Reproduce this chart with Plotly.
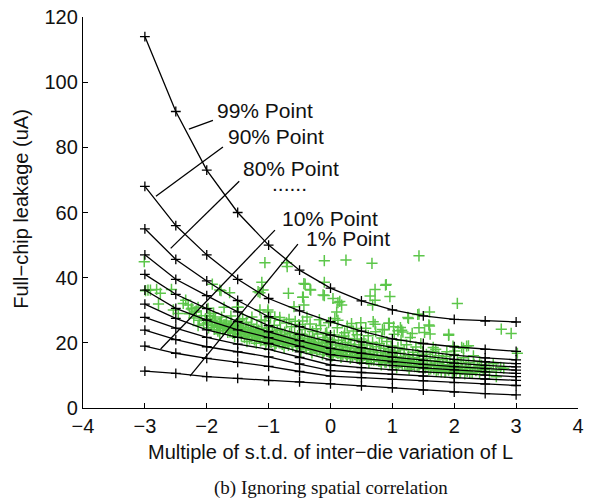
import plotly.graph_objects as go

# inter-die variation multiples where the percentile curves are evaluated
sigma_x = [-3, -2.5, -2, -1.5, -1, -0.5, 0, 0.5, 1, 1.5, 2, 2.5, 3]

# full-chip leakage (uA) percentile curves, top (99%) to bottom (1%)
p99 = [114, 91, 73, 60, 50, 42.3, 36.8, 32.9, 30.1, 28.3, 27.2, 26.7, 26.4]
p90 = [68, 56, 47, 39.5, 33.6, 29.8, 26.5, 23.6, 21.2, 19.8, 18.8, 18.0, 17.4]
p80 = [55, 45.6, 39, 33, 28, 25, 22.4, 20.3, 18.6, 17.3, 16.2, 15.4, 14.8]
p70 = [47, 39.5, 34.5, 29.5, 25.3, 22.6, 20.3, 18.5, 17.0, 15.9, 14.9, 14.2, 13.6]
p60 = [41, 34.9, 30.5, 26.5, 23.4, 20.7, 18.3, 16.8, 15.6, 14.6, 13.8, 13.1, 12.6]
p50 = [36.2, 30.6, 27, 24, 21.6, 18.9, 16.4, 15.2, 14.2, 13.4, 12.7, 12.1, 11.6]
p40 = [31.9, 27.5, 24, 21.7, 19.8, 17.2, 14.8, 13.8, 13.0, 12.3, 11.7, 11.1, 10.6]
p30 = [27.8, 24.5, 21.7, 19.6, 18, 15.5, 13.2, 12.4, 11.7, 11.1, 10.6, 10.1, 9.6]
p20 = [23.9, 21, 18.8, 17.2, 15.7, 13.5, 11.5, 10.9, 10.3, 9.8, 9.3, 8.9, 8.5]
p10 = [19, 16.8, 15.2, 14, 12.8, 11.2, 9.8, 9.3, 8.8, 8.3, 7.8, 7.3, 6.9]
p01 = [11.3, 10.6, 9.6, 9.1, 8.4, 8.0, 7.4, 6.8, 6.2, 5.5, 4.9, 4.4, 4.0]
curves = [p99, p90, p80, p70, p60, p50, p40, p30, p20, p10, p01]

# Monte Carlo samples: sparse points away from the main band
mc_sparse = [
    (-3.01, 44.9), (-2.95, 36.2), (-2.91, 36.2), (-2.99, 36.0), (-2.75, 35.2), (-2.57, 36.4),
    (-2.78, 31.9), (-2.81, 36.4), (-2.34, 33.1), (-2.30, 31.6), (-2.54, 30.1), (-2.46, 29.0),
    (-2.38, 32.1), (-2.24, 30.6), (-2.19, 29.5), (-1.91, 38.0), (-1.79, 36.2), (-1.63, 35.4),
    (-1.49, 30.9), (-1.95, 28.5), (-1.06, 44.6), (-1.11, 38.6), (-1.14, 35.4), (-1.01, 29.5),
    (-0.71, 44.6), (-0.68, 35.2), (-0.70, 43.4), (-0.10, 45.2), (-1.17, 35.7), (-0.41, 38.0),
    (-0.33, 36.4), (-0.45, 34.0), (-0.10, 34.5), (-0.10, 38.6), (-0.43, 31.6), (-0.59, 31.1),
    (0.04, 33.6), (0.10, 29.5), (-1.51, 30.9), (-1.14, 30.1), (-1.01, 30.1), (-0.82, 27.8),
    (0.25, 45.4), (0.67, 44.4), (1.43, 46.7), (0.90, 37.9), (0.72, 36.4), (0.96, 34.2),
    (0.64, 34.4), (0.72, 33.1), (0.68, 31.6), (0.12, 32.3), (0.18, 31.6), (1.26, 27.5),
    (1.43, 28.8), (1.60, 29.5), (1.43, 24.6), (1.60, 25.2), (1.61, 22.7), (0.49, 26.2),
    (0.69, 26.5), (0.95, 26.0), (0.84, 24.1), (1.09, 23.7), (1.15, 23.9), (1.66, 18.6),
    (2.05, 32.1), (2.76, 24.2), (2.92, 22.9), (1.91, 22.3), (1.98, 19.0), (2.01, 17.5),
    (2.15, 18.3), (2.23, 19.1), (1.70, 18.0), (1.88, 17.3), (2.31, 16.0), (2.41, 14.2),
    (3.02, 16.8), (2.80, 12.2), (2.68, 9.6), (1.41, 28.7), (1.25, 27.8), (0.89, 37.7),
    (1.59, 25.5), (1.52, 23.2), (1.91, 22.6), (0.94, 26.0), (1.13, 24.7), (2.12, 18.6),
    (2.20, 19.0), (-0.43, 38.2), (-0.32, 36.2), (-0.44, 34.0), (-0.12, 34.7), (0.15, 32.7),
    (-1.09, 36.2), (-1.77, 36.0), (-1.72, 30.9), (-1.98, 30.6), (-2.14, 30.9), (-0.90, 28.0),
]

# Monte Carlo samples: dense band
mc_band_left = [
    (-2.28, 28.9), (-2.21, 27.6), (-2.17, 29.8), (-2.12, 26.9), (-2.09, 28.3), (-2.05, 25.8),
    (-2.02, 27.4), (-1.99, 26.2), (-1.97, 24.6), (-1.95, 28.1), (-1.93, 25.4), (-1.91, 26.8),
    (-1.88, 24.1), (-1.86, 27.3), (-1.84, 25.1), (-1.82, 23.6), (-1.80, 26.0), (-1.78, 24.8),
    (-1.76, 27.9), (-1.74, 23.9), (-1.72, 25.6), (-1.70, 24.4), (-1.68, 26.7), (-1.66, 23.2),
    (-1.64, 25.0), (-1.62, 24.0), (-1.60, 26.1), (-1.58, 22.9), (-1.56, 24.7), (-1.54, 23.5),
    (-1.52, 25.8), (-1.50, 22.6), (-1.49, 24.2), (-1.47, 27.0), (-2.25, 30.4), (-2.14, 25.3),
    (-1.89, 29.1), (-1.79, 22.8), (-1.61, 28.2), (-1.55, 21.9),
    (-1.46, 23.8), (-1.44, 22.1), (-1.43, 25.2), (-1.41, 24.0), (-1.39, 21.6), (-1.38, 23.1),
    (-1.36, 26.3), (-1.34, 22.7), (-1.33, 24.6), (-1.31, 21.2), (-1.29, 23.5), (-1.28, 25.7),
    (-1.26, 22.3), (-1.24, 24.1), (-1.23, 20.9), (-1.21, 23.0), (-1.19, 25.0), (-1.18, 21.8),
    (-1.16, 23.9), (-1.14, 22.5), (-1.13, 20.6), (-1.11, 24.4), (-1.09, 21.4), (-1.08, 22.9),
    (-1.06, 26.8), (-1.04, 20.3), (-1.03, 23.6), (-1.01, 21.9), (-0.99, 24.7), (-0.98, 22.4),
    (-0.96, 20.1), (-0.94, 23.2), (-0.93, 21.1), (-0.91, 25.4), (-0.89, 22.0), (-0.88, 19.8),
    (-0.86, 23.7), (-0.84, 21.5), (-0.83, 20.4), (-0.81, 24.2), (-0.79, 22.6), (-0.78, 19.5),
    (-0.76, 21.0), (-0.74, 23.3), (-0.73, 20.0), (-0.71, 26.1), (-0.69, 21.7), (-0.68, 19.2),
    (-0.66, 22.8), (-0.64, 20.7), (-0.63, 24.9), (-0.61, 19.0), (-0.59, 21.3), (-0.58, 23.0),
    (-0.56, 20.2), (-0.54, 18.8), (-0.53, 22.2), (-0.51, 25.6), (-1.42, 27.4), (-1.27, 27.9),
    (-1.12, 27.0), (-0.97, 27.6), (-0.82, 26.9), (-0.67, 27.2), (-0.57, 26.6), (-1.35, 20.4),
    (-1.20, 19.9), (-1.05, 19.4), (-0.90, 18.9), (-0.75, 18.5),
]
mc_band_mid = [
    (-0.49, 20.5), (-0.47, 18.4), (-0.46, 22.6), (-0.44, 19.7), (-0.42, 21.4), (-0.41, 24.1),
    (-0.39, 18.1), (-0.37, 20.9), (-0.36, 19.2), (-0.34, 22.0), (-0.32, 17.9), (-0.31, 20.3),
    (-0.29, 23.5), (-0.27, 18.8), (-0.26, 21.1), (-0.24, 19.5), (-0.22, 17.6), (-0.21, 22.7),
    (-0.19, 20.0), (-0.17, 18.3), (-0.16, 25.3), (-0.14, 19.1), (-0.12, 21.6), (-0.11, 17.3),
    (-0.09, 20.6), (-0.07, 18.7), (-0.06, 23.2), (-0.04, 19.8), (-0.02, 17.0), (-0.01, 21.0),
    (0.01, 18.5), (0.03, 20.2), (0.04, 16.8), (0.06, 22.4), (0.08, 19.3), (0.09, 17.7),
    (0.11, 24.6), (0.13, 20.8), (0.14, 18.0), (0.16, 16.5), (0.18, 21.9), (0.19, 19.0),
    (0.21, 17.4), (0.23, 23.1), (0.24, 20.1), (0.26, 16.2), (0.28, 18.6), (0.29, 21.3),
    (0.31, 17.1), (0.33, 19.6), (0.34, 25.9), (0.36, 16.0), (0.38, 18.2), (0.39, 20.7),
    (0.41, 17.5), (0.43, 22.5), (0.44, 15.8), (0.46, 19.4), (0.48, 17.8), (0.49, 21.2),
    (-0.45, 26.7), (-0.33, 25.8), (-0.18, 27.1), (-0.03, 26.2), (0.12, 26.9), (0.27, 25.1),
    (0.42, 24.4), (-0.38, 27.9), (0.07, 27.5), (-0.23, 24.3), (-0.48, 17.4), (-0.30, 16.9),
    (-0.13, 16.4), (0.02, 15.9), (0.17, 15.5), (0.32, 15.2), (0.47, 14.9), (-0.08, 22.9),
    (0.22, 22.1), (0.37, 23.6),
]
mc_band_right = [
    (0.51, 18.4), (0.53, 16.3), (0.54, 20.5), (0.56, 17.2), (0.58, 15.0), (0.59, 19.3),
    (0.61, 22.2), (0.63, 16.7), (0.64, 18.0), (0.66, 14.8), (0.68, 20.1), (0.69, 17.5),
    (0.71, 15.6), (0.73, 23.4), (0.74, 18.8), (0.76, 16.1), (0.78, 14.4), (0.79, 19.7),
    (0.81, 17.0), (0.83, 21.5), (0.84, 15.3), (0.86, 18.3), (0.88, 14.1), (0.89, 16.6),
    (0.91, 20.4), (0.93, 15.9), (0.94, 17.8), (0.96, 13.8), (0.98, 19.0), (0.99, 16.2),
    (1.01, 14.6), (1.03, 22.6), (1.04, 17.4), (1.06, 13.5), (1.08, 15.7), (1.09, 18.6),
    (1.11, 14.0), (1.13, 16.8), (1.14, 20.8), (1.16, 13.3), (1.18, 15.2), (1.19, 17.9),
    (1.21, 14.3), (1.23, 19.4), (1.24, 12.9), (1.26, 16.0), (1.28, 14.7), (1.29, 21.6),
    (1.31, 13.1), (1.33, 17.1), (1.34, 15.4), (1.36, 12.7), (1.38, 18.7), (1.39, 14.2),
    (1.41, 16.4), (1.43, 12.5), (1.44, 15.0), (1.46, 19.8), (1.48, 13.6), (1.49, 17.3),
    (0.57, 24.5), (0.72, 25.7), (0.87, 24.0), (1.02, 24.9), (1.17, 23.3), (1.32, 22.9),
    (0.62, 13.9), (0.82, 13.2), (1.07, 12.4), (1.27, 11.9),
    (1.51, 14.4), (1.53, 12.3), (1.55, 16.5), (1.57, 13.5), (1.59, 11.8), (1.61, 15.3),
    (1.63, 13.0), (1.65, 17.4), (1.67, 12.0), (1.69, 14.6), (1.71, 11.4), (1.73, 13.8),
    (1.75, 16.0), (1.77, 12.6), (1.79, 11.1), (1.81, 14.9), (1.83, 12.9), (1.85, 10.9),
    (1.87, 15.8), (1.89, 13.3), (1.91, 11.6), (1.93, 14.1), (1.95, 12.2), (1.97, 10.6),
    (1.99, 16.4), (2.01, 13.0), (2.03, 11.3), (2.05, 14.5), (2.07, 12.4), (2.09, 10.8),
    (2.11, 13.7), (2.13, 11.9), (2.15, 15.4), (2.17, 10.5), (2.19, 12.8), (2.21, 11.2),
    (2.23, 14.0), (2.26, 12.1), (2.29, 10.7), (2.32, 13.4), (2.35, 11.5), (2.38, 12.6),
    (2.41, 10.9), (2.44, 13.1), (2.47, 11.8), (2.52, 12.4), (2.57, 11.0), (2.63, 13.6),
    (2.68, 11.7), (2.75, 12.5),
]
# Monte Carlo samples: core of the band where the crosses merge
mc_band_core = [
    (-1.92, 25.5), (-1.87, 26.4), (-1.83, 25.0), (-1.78, 26.1), (-1.73, 24.6), (-1.69, 25.7),
    (-1.65, 24.2), (-1.61, 25.3), (-1.57, 23.8), (-1.53, 24.9), (-1.48, 23.5), (-1.45, 24.6),
    (-1.40, 22.9), (-1.37, 24.1), (-1.32, 23.3), (-1.28, 22.1), (-1.25, 23.8), (-1.22, 22.6),
    (-1.17, 23.4), (-1.15, 21.7), (-1.10, 22.9), (-1.07, 21.5), (-1.02, 22.7), (-0.98, 21.2),
    (-0.95, 22.3), (-0.92, 20.7), (-0.87, 21.9), (-0.85, 20.5), (-0.80, 21.6), (-0.77, 20.2),
    (-0.72, 21.3), (-0.70, 19.8), (-0.65, 21.0), (-0.62, 19.6), (-0.57, 20.6), (-0.55, 19.3),
    (-0.50, 20.4), (-0.47, 19.1), (-0.43, 20.1), (-0.40, 18.8), (-0.35, 19.9), (-0.33, 18.5),
    (-0.28, 19.6), (-0.25, 18.2), (-0.20, 19.2), (-0.18, 17.9), (-0.13, 18.9), (-0.10, 17.6),
    (-0.05, 18.6), (-0.03, 17.3), (0.02, 18.3), (0.05, 17.0), (0.10, 18.0), (0.12, 16.7),
    (0.17, 17.7), (0.20, 16.4), (0.25, 17.4), (0.27, 16.1), (0.32, 17.1), (0.35, 15.8),
    (0.40, 16.8), (0.42, 15.5), (0.47, 16.5), (0.52, 15.3), (0.55, 16.2), (0.60, 15.0),
    (0.65, 16.0), (0.70, 14.7), (0.75, 15.7), (0.80, 14.4), (0.85, 15.3), (0.90, 14.1),
    (0.95, 15.0), (1.00, 13.8), (1.05, 14.7), (1.10, 13.5), (1.15, 14.4), (1.20, 13.2),
    (1.25, 14.1), (1.30, 12.9), (1.35, 13.8), (1.40, 12.6), (1.45, 13.5), (1.50, 12.3),
    (1.56, 13.2), (1.62, 12.0), (1.68, 12.9), (1.74, 11.7), (1.80, 12.5), (1.86, 11.4),
    (1.92, 12.2), (1.98, 11.2), (2.04, 11.9), (2.10, 11.0), (2.18, 11.6), (2.25, 10.8),
]

# labels and their leader lines (x0, y0, x1, y1) in data units
labels = ["99% Point", "90% Point", "80% Point", "......", "10% Point", "1% Point"]
label_pos = [(-1.87, 91.4), (-1.69, 83.2), (-1.45, 73.6), (-0.98, 69.0), (-0.82, 58.3), (-0.43, 52.1)]
leaders = [
    (-2.288, 85.6, -1.900, 88.3),
    (-2.821, 65.0, -1.738, 80.1),
    (-2.583, 49.0, -1.475, 69.6),
    (-2.745, 18.1, -0.898, 54.6),
    (-2.271, 9.8, -0.527, 50.3),
]

sans = "Liberation Sans, Arial, Helvetica, sans-serif"
green = "#5cc64a"

fig = go.Figure()

mc_all = mc_sparse + mc_band_left + mc_band_mid + mc_band_right + mc_band_core
fig.add_trace(go.Scatter(
    x=[p[0] for p in mc_all], y=[p[1] for p in mc_all], mode="markers",
    marker=dict(symbol="cross-thin", size=8, line=dict(color=green, width=1.5)),
    hoverinfo="skip",
))

for c in curves:
    fig.add_trace(go.Scatter(
        x=sigma_x, y=c, mode="lines+markers",
        line=dict(color="black", width=1.3),
        marker=dict(symbol="cross-thin", size=7, color="black", line=dict(color="black", width=1.3)),
    ))

for x0, y0, x1, y1 in leaders:
    fig.add_shape(type="line", xref="x", yref="y", x0=x0, y0=y0, x1=x1, y1=y1,
                  line=dict(color="black", width=1.3))

for txt, (lx, ly) in zip(labels, label_pos):
    fig.add_annotation(x=lx, y=ly, xref="x", yref="y", text=txt, showarrow=False,
                       xanchor="left", yanchor="middle", font=dict(size=21, color="#111"))

fig.add_annotation(x=-0.127, y=0.51, xref="paper", yref="paper", text="Full−chip leakage (uA)",
                   textangle=-90, showarrow=False, xanchor="center", yanchor="middle",
                   font=dict(size=20, color="#111"))
fig.add_annotation(x=0.5, y=-0.1125, xref="paper", yref="paper",
                   text="Multiple of s.t.d. of inter−die variation of L",
                   showarrow=False, xanchor="center", yanchor="middle", font=dict(size=20, color="#111"))
fig.add_annotation(x=0.5, y=-0.2046, xref="paper", yref="paper", text="(b) Ignoring spatial correlation",
                   showarrow=False, xanchor="center", yanchor="middle",
                   font=dict(size=19, color="#111", family="Liberation Serif, Times New Roman, serif"))

# page body adds an 8px margin, so the figure is 584x492 and shifted up/left by 8
fig.update_layout(
    width=584, height=492,
    margin=dict(l=75, r=14, t=9, b=92, autoexpand=False),
    paper_bgcolor="white", plot_bgcolor="white",
    showlegend=False,
    font=dict(family=sans, size=20, color="#111"),
    xaxis=dict(range=[-4, 4], dtick=1, ticks="inside", ticklen=5, tickwidth=1, tickcolor="black",
               showline=True, linecolor="black", linewidth=1.3, showgrid=False, zeroline=False,
               tickfont=dict(size=20), automargin=False, ticklabeloverflow="allow"),
    yaxis=dict(range=[0, 120], dtick=20, ticks="inside", ticklen=5, tickwidth=1, tickcolor="black",
               showline=True, linecolor="black", linewidth=1.3, showgrid=False, zeroline=False,
               tickfont=dict(size=20), automargin=False, ticklabeloverflow="allow"),
)

fig.write_html("out.html")
